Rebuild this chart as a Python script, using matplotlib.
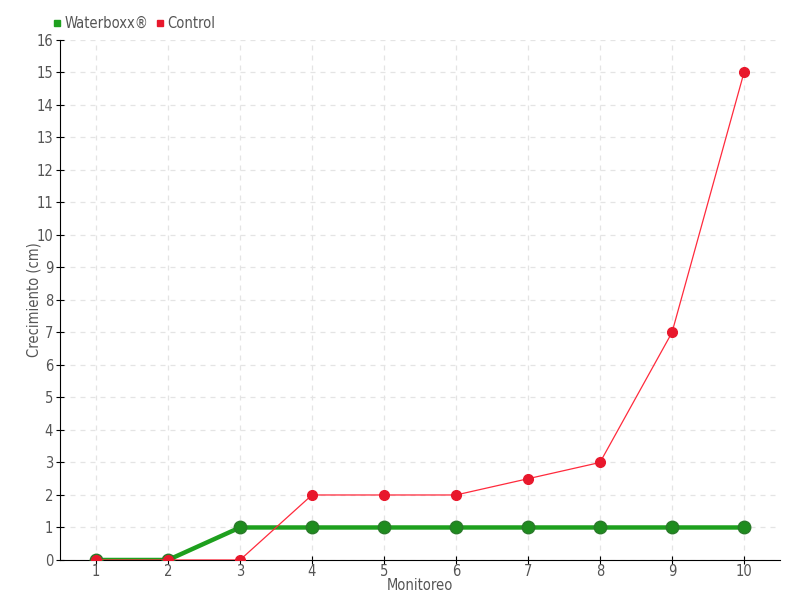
import matplotlib
matplotlib.use("Agg")
import matplotlib.pyplot as plt
from matplotlib.lines import Line2D

# data
monitoreo = [1, 2, 3, 4, 5, 6, 7, 8, 9, 10]
waterboxx = [0, 0, 1, 1, 1, 1, 1, 1, 1, 1]
control = [0, 0, 0, 2, 2, 2, 2.5, 3, 7, 15]

plt.rcParams['font.family'] = ['DejaVu Sans']
plt.rcParams['font.stretch'] = 'condensed'

fig = plt.figure(figsize=(8, 6), dpi=100)
ax = fig.add_axes([0.075, 0.0667, 0.9, 0.8667])

# grid
ax.grid(True, color='#e4e4e4', linestyle=(0, (4, 4)), linewidth=0.9)
ax.set_axisbelow(True)

# series
ax.plot(monitoreo, waterboxx, color='#1ea01e', linewidth=3.2, marker='o',
        markersize=9, markerfacecolor='#1e8c1e', markeredgecolor='#2a7a2a',
        label='Waterboxx®', zorder=3)
ax.plot(monitoreo, control, color='#ff2a3c', linewidth=0.9, marker='o',
        markersize=7, markerfacecolor='#e8182c', markeredgecolor='#e8182c',
        label='Control', zorder=4)

ax.set_xlim(0.5, 10.5)
ax.set_ylim(0, 16)
ax.set_xticks(monitoreo)
ax.set_yticks(range(0, 17))

for s in ['top', 'right']:
    ax.spines[s].set_visible(False)
ax.spines['left'].set_color('black')
ax.spines['bottom'].set_color('black')

ax.tick_params(axis='y', direction='inout', length=6, colors='black',
               labelcolor='#555555', labelsize=10.5, pad=2)
ax.tick_params(axis='x', direction='inout', length=6, colors='black',
               labelcolor='#555555', labelsize=10.5, pad=0)

ax.set_xlabel('Monitoreo', color='#555555', fontsize=10.5, labelpad=-1)
ax.set_ylabel('Crecimiento (cm)', color='#555555', fontsize=10.5, labelpad=-4)

# legend with small square markers
handles = [Line2D([], [], linestyle='none', marker='s', markersize=5,
                  color='#1ea01e'),
           Line2D([], [], linestyle='none', marker='s', markersize=5,
                  color='#e8182c')]
fig.legend(handles, ['Waterboxx®', 'Control'], loc='upper left',
           bbox_to_anchor=(0.05, 0.995), ncol=2, frameon=False,
           handlelength=0.5, handletextpad=0.3, columnspacing=0.5,
           fontsize=10.5, labelcolor='#555555')

fig.savefig('out.png', dpi=100)
